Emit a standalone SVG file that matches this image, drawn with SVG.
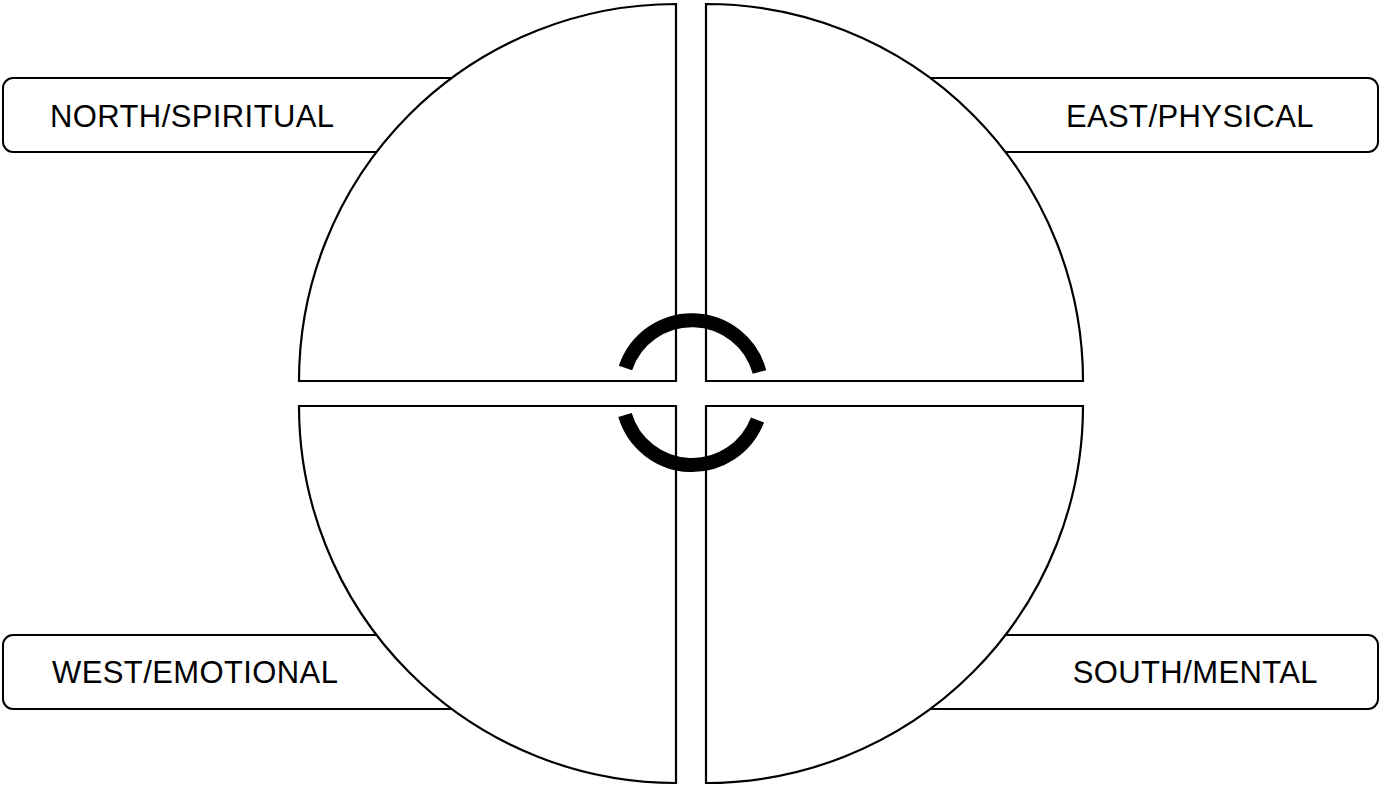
<svg xmlns="http://www.w3.org/2000/svg" width="1381" height="787" viewBox="0 0 1381 787">
  <style>
    .box { fill: #ffffff; stroke: #000000; stroke-width: 2; }
    .quad { fill: #ffffff; stroke: #000000; stroke-width: 2.2; stroke-linejoin: miter; }
    .lbl { font-family: "Liberation Sans", Arial, sans-serif; font-size: 31px; letter-spacing: 0.4px; fill: #000000; }
    .ring { fill: none; stroke: #000000; stroke-width: 14; stroke-linecap: butt; }
  </style>
  <rect x="0" y="0" width="1381" height="787" fill="#ffffff"/>
  <g id="label-north">
    <rect class="box" x="3" y="78" width="500" height="74" rx="10" ry="10"/>
    <text class="lbl" x="50" y="127">NORTH/SPIRITUAL</text>
  </g>
  <g id="label-east">
    <rect class="box" x="880" y="78" width="498" height="74" rx="10" ry="10"/>
    <text class="lbl" x="1314" y="127" text-anchor="end">EAST/PHYSICAL</text>
  </g>
  <g id="label-west">
    <rect class="box" x="3" y="635" width="500" height="74" rx="10" ry="10"/>
    <text class="lbl" x="52" y="683">WEST/EMOTIONAL</text>
  </g>
  <g id="label-south">
    <rect class="box" x="880" y="635" width="498" height="74" rx="10" ry="10"/>
    <text class="lbl" x="1318" y="683" text-anchor="end">SOUTH/MENTAL</text>
  </g>
  <g id="quadrant-nw">
    <path class="quad" d="M676,381 L299,381 A377,377 0 0 1 676,4 Z"/>
  </g>
  <g id="quadrant-ne">
    <path class="quad" d="M706,381 L706,4 A377,377 0 0 1 1083,381 Z"/>
  </g>
  <g id="quadrant-sw">
    <path class="quad" d="M676,406 L676,783 A377,377 0 0 1 299,406 Z"/>
  </g>
  <g id="quadrant-se">
    <path class="quad" d="M706,406 L1083,406 A377,377 0 0 1 706,783 Z"/>
  </g>
  <g id="connectors">
    <path class="ring" d="M625.5,368 A70,70 0 0 1 759.5,372"/>
    <path class="ring" d="M625,415 A70,70 0 0 0 757.5,420"/>
  </g>
</svg>
